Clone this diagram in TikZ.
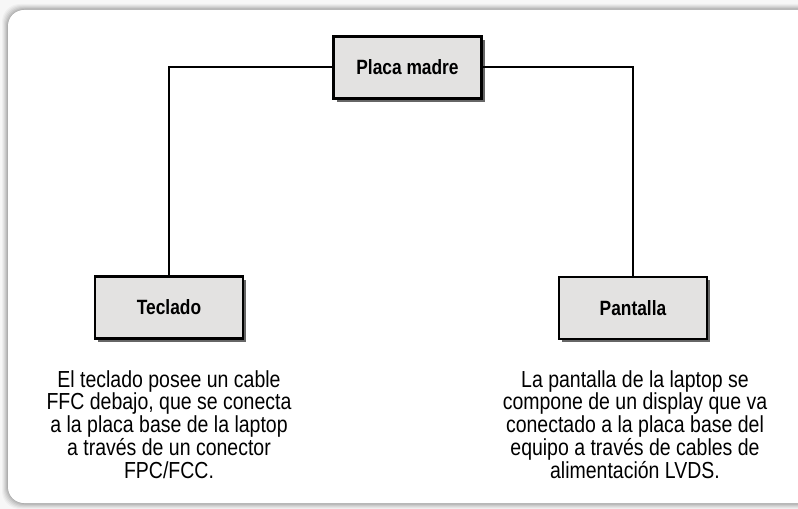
\documentclass[tikz,border=0pt]{standalone}
\usepackage{fontspec}
\setmainfont{Liberation Sans}[FakeStretch=0.84]
\usetikzlibrary{shadows,calc}
\definecolor{boxfill}{HTML}{E3E2E1}
\tikzset{
  px/.style={x=0.75pt,y=-0.75pt},
  blockbox/.style={draw=black,line width=2.2pt*0.75,fill=boxfill,minimum width=148*0.75pt,minimum height=62*0.75pt,inner sep=0pt,
    font=\fontsize{15.5}{17}\selectfont\bfseries,
    drop shadow={shadow xshift=2.5pt,shadow yshift=-2.5pt,opacity=0.6,fill=black}},
  wire/.style={line width=2pt*0.75,draw=black},
  desc/.style={align=center,inner sep=0pt,font=\fontsize{17.4}{17.1}\selectfont},
}
\begin{document}
\begin{tikzpicture}[px]
\useasboundingbox (0,0) rectangle (798,509);
% background with soft panel shadow
\fill[gray!6] (0,0) rectangle (798,509);
\foreach \i/\o in {6/0.03,5/0.04,4/0.05,3/0.06,2/0.07,1/0.08}{
  \fill[black,opacity=\o,rounded corners=18*0.75pt] (8-\i,10-\i) rectangle (830,503+\i);
}
\fill[white,rounded corners=16*0.75pt] (8,10) rectangle (830,503);
% nodes
\node[blockbox] (pm) at (407.5,67.5) {Placa madre};
\node[blockbox] (tc) at (169,307.5) {Teclado};
\node[blockbox] (pa) at (633,308) {Pantalla};
% connectors
\draw[wire] (pm.west) -| (tc.north);
\draw[wire] (pm.east) -| (pa.north);
% descriptions
\node[desc,anchor=north] (dt) at (169,370) {El teclado posee un cable\\FFC debajo, que se conecta\\a la placa base de la laptop\\a través de un conector\\FPC/FCC.};
\node[desc,anchor=north] (dp) at (635,370) {La pantalla de la laptop se\\compone de un display que va\\conectado a la placa base del\\equipo a través de cables de\\alimentación LVDS.};
\end{tikzpicture}
\end{document}
